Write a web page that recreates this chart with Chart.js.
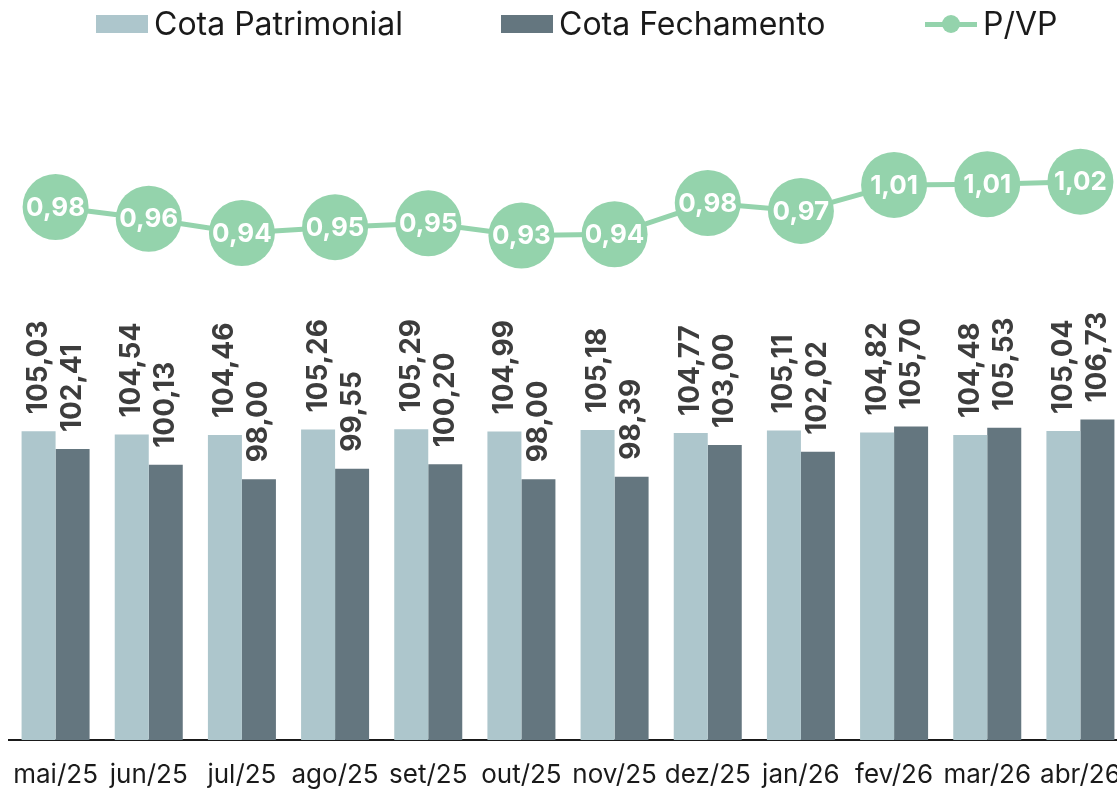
<!DOCTYPE html>
<html lang="pt-BR">
<head>
<meta charset="utf-8">
<script src="https://cdn.jsdelivr.net/npm/chart.js@4.4.1/dist/chart.umd.min.js"></script>
<style>
  html, body { margin: 0; padding: 0; background: #fff; overflow: hidden; }
  #wrap { position: relative; width: 1117px; height: 789px; overflow: hidden; }
  #chart { position: absolute; left: 0; top: 0; }
  .legend-item { position: absolute; top: 4px; display: flex; align-items: center; font-family: Inter, sans-serif; font-size: 32px; color: #1a1a1a; }
  .legend-item .box { width: 52px; height: 18px; margin-right: 6px; }
  .legend-item .linebox { position: relative; width: 52px; height: 18px; margin-right: 6px; }
  .legend-item .linebox .ln { position: absolute; left: 0; right: 0; top: 7px; height: 5px; background: #94d3ac; }
  .legend-item .linebox .dot { position: absolute; left: 17px; top: 0; width: 18px; height: 18px; border-radius: 50%; background: #94d3ac; }
</style>
</head>
<body>
<div id="wrap">
  <canvas id="chart" width="1127" height="789"></canvas>
  <div class="legend-item" style="left:96px"><span class="box" style="background:#adc6cc"></span>Cota Patrimonial</div>
  <div class="legend-item" style="left:501px"><span class="box" style="background:#64767f"></span>Cota Fechamento</div>
  <div class="legend-item" style="left:925px"><span class="linebox"><span class="ln"></span><span class="dot"></span></span>P/VP</div>
</div>
<script>
const meses = ["mai/25", "jun/25", "jul/25", "ago/25", "set/25", "out/25", "nov/25", "dez/25", "jan/26", "fev/26", "mar/26", "abr/26"];
const cotaPatrimonial = [105.03, 104.54, 104.46, 105.26, 105.29, 104.99, 105.18, 104.77, 105.11, 104.82, 104.48, 105.04];
const cotaFechamento = [102.41, 100.13, 98.00, 99.55, 100.20, 98.00, 98.39, 103.00, 102.02, 105.70, 105.53, 106.73];
const pvp = [0.978, 0.960, 0.938, 0.947, 0.953, 0.934, 0.936, 0.984, 0.972, 1.012, 1.013, 1.017];

const fmt = (v) => v.toFixed(2).replace(".", ",");

// rótulos das barras (verticais) e dos pontos do P/VP
const rotulos = {
    id: "rotulos",
    afterDatasetsDraw(chart) {
        const ctx = chart.ctx;
        ctx.save();
        chart.data.datasets.forEach((ds, i) => {
            const meta = chart.getDatasetMeta(i);
            meta.data.forEach((el, j) => {
                const txt = fmt(ds.data[j]);
                if (ds.type === "line") {
                    ctx.fillStyle = "#ffffff";
                    ctx.font = "bold 26px Inter, sans-serif";
                    ctx.textAlign = "center";
                    ctx.textBaseline = "middle";
                    ctx.fillText(txt, el.x, el.y + 1);
                } else {
                    ctx.save();
                    ctx.translate(el.x, el.y - 17);
                    ctx.rotate(-Math.PI / 2);
                    ctx.fillStyle = "#3d3d3d";
                    ctx.font = "bold 28px Inter, sans-serif";
                    ctx.textAlign = "left";
                    ctx.textBaseline = "middle";
                    ctx.fillText(txt, 0, 0);
                    ctx.restore();
                }
            });
        });
        ctx.restore();
    },
};

new Chart(document.getElementById("chart"), {
    data: {
        labels: meses,
        datasets: [
            {
                type: "line",
                label: "P/VP",
                data: pvp,
                yAxisID: "y1",
                borderColor: "#94d3ac",
                backgroundColor: "#94d3ac",
                borderWidth: 5,
                tension: 0,
                pointRadius: 33,
                pointHoverRadius: 33,
                pointBorderWidth: 0,
                pointBackgroundColor: "#94d3ac",
                clip: false,
            },
            {
                type: "bar",
                label: "Cota Patrimonial",
                data: cotaPatrimonial,
                yAxisID: "y",
                backgroundColor: "#adc6cc",
                barPercentage: 1,
                categoryPercentage: 0.73,
            },
            {
                type: "bar",
                label: "Cota Fechamento",
                data: cotaFechamento,
                yAxisID: "y",
                backgroundColor: "#64767f",
                barPercentage: 1,
                categoryPercentage: 0.73,
            },
        ],
    },
    options: {
        responsive: false,
        animation: false,
        layout: { autoPadding: false, padding: { left: 9, right: 0, top: 50, bottom: 0 } },
        plugins: {
            legend: { display: false },
            tooltip: { enabled: false },
        },
        scales: {
            x: {
                grid: { display: false, drawTicks: false },
                border: { display: true, color: "#1a1a1a", width: 2 },
                ticks: {
                    color: "#1a1a1a",
                    font: { family: "Inter, sans-serif", size: 26 },
                    padding: 20,
                    maxRotation: 0,
                    autoSkip: false,
                },
                afterFit(scale) {
                    // o último rótulo fica cortado na borda, como no original
                    scale.paddingLeft = 0;
                    scale.paddingRight = 0;
                    scale.height = 49;
                },
            },
            y: { display: false, min: 60, max: 160.6 },
            y1: { display: false, min: 0.158, max: 1.2195 },
        },
    },
    plugins: [rotulos],
});
</script>
</body>
</html>
